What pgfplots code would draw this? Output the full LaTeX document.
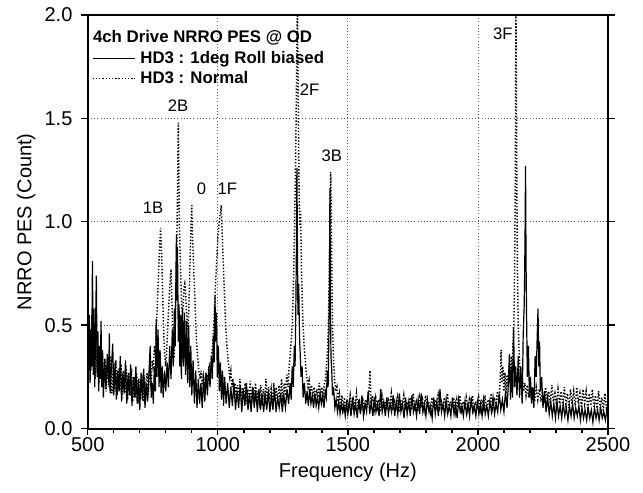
\documentclass[border=0pt]{standalone}
\usepackage{pgfplots}
\pgfplotsset{compat=1.18}
\usepackage{fontspec}
\setmainfont{Liberation Sans}
\pgfplotstableread{
x y
500 0.42
503 0.28
506 0.55
509 0.22
512 0.48
515 0.30
518 0.81
521 0.26
524 0.58
527 0.20
530 0.50
533 0.74
536 0.25
539 0.47
542 0.18
545 0.40
548 0.24
551 0.52
554 0.20
557 0.38
560 0.15
565 0.33
570 0.19
575 0.36
580 0.22
583 0.46
586 0.17
591 0.30
596 0.41
600 0.16
605 0.32
610 0.14
615 0.28
620 0.18
625 0.35
630 0.13
635 0.27
640 0.17
645 0.33
650 0.12
655 0.26
660 0.16
665 0.31
670 0.11
675 0.25
680 0.15
685 0.30
690 0.12
695 0.24
700 0.09
705 0.27
710 0.14
715 0.29
720 0.10
725 0.22
730 0.13
735 0.26
740 0.40
744 0.15
748 0.22
752 0.12
756 0.30
760 0.18
763 0.53
766 0.25
770 0.48
774 0.20
778 0.38
782 0.17
786 0.30
790 0.15
795 0.28
800 0.18
805 0.32
810 0.20
815 0.40
820 0.24
825 0.48
829 0.30
833 0.58
836 0.40
839 0.75
841 0.94
843 0.62
845 0.88
848 0.42
851 0.60
854 0.30
857 0.55
860 0.24
864 0.58
868 0.30
872 0.56
876 0.26
880 0.52
884 0.22
888 0.50
892 0.20
896 0.40
900 0.16
905 0.33
910 0.12
915 0.28
920 0.10
925 0.24
930 0.12
935 0.22
940 0.10
945 0.25
950 0.13
955 0.27
960 0.16
965 0.30
970 0.20
975 0.35
979 0.24
983 0.45
986 0.32
989 0.64
992 0.42
995 0.56
998 0.25
1002 0.40
1006 0.18
1010 0.32
1014 0.14
1018 0.28
1022 0.11
1026 0.25
1032 0.12
1038 0.22
1044 0.10
1050 0.20
1056 0.11
1062 0.22
1068 0.09
1074 0.18
1080 0.10
1086 0.21
1092 0.08
1098 0.19
1104 0.11
1110 0.22
1116 0.09
1122 0.17
1128 0.08
1134 0.20
1140 0.10
1146 0.18
1152 0.08
1158 0.19
1164 0.09
1170 0.17
1176 0.08
1182 0.16
1188 0.09
1194 0.18
1200 0.08
1206 0.16
1212 0.09
1218 0.19
1224 0.08
1230 0.15
1236 0.10
1242 0.17
1248 0.08
1254 0.16
1260 0.10
1266 0.19
1272 0.12
1278 0.22
1282 0.14
1286 0.30
1290 0.20
1294 0.40
1297 0.30
1300 0.60
1302 0.85
1304 1.26
1306 0.90
1308 0.55
1311 0.70
1314 0.45
1317 0.35
1320 0.25
1324 0.30
1328 0.15
1333 0.22
1338 0.12
1343 0.18
1348 0.11
1353 0.19
1358 0.12
1363 0.16
1368 0.10
1373 0.17
1378 0.11
1383 0.15
1388 0.10
1393 0.17
1398 0.12
1403 0.16
1408 0.10
1413 0.18
1417 0.15
1421 0.28
1424 0.20
1427 0.45
1429 0.70
1431 1.16
1433 0.60
1435 0.35
1438 0.28
1441 0.16
1445 0.20
1450 0.10
1455 0.14
1460 0.08
1465 0.13
1470 0.07
1475 0.12
1480 0.08
1485 0.11
1490 0.06
1495 0.12
1500 0.07
1506 0.13
1512 0.06
1518 0.15
1524 0.07
1530 0.12
1536 0.05
1542 0.14
1548 0.07
1554 0.16
1560 0.06
1566 0.12
1572 0.08
1578 0.18
1584 0.07
1590 0.13
1596 0.06
1602 0.15
1608 0.08
1614 0.12
1620 0.06
1626 0.19
1632 0.08
1638 0.13
1644 0.06
1650 0.15
1656 0.07
1662 0.12
1668 0.08
1674 0.16
1680 0.06
1686 0.13
1692 0.07
1698 0.17
1704 0.08
1710 0.12
1716 0.05
1722 0.15
1728 0.07
1734 0.13
1740 0.06
1746 0.16
1752 0.08
1758 0.12
1764 0.06
1770 0.14
1776 0.07
1782 0.17
1788 0.08
1794 0.12
1800 0.06
1806 0.14
1812 0.08
1818 0.11
1824 0.05
1830 0.15
1836 0.07
1842 0.13
1848 0.06
1854 0.19
1860 0.08
1866 0.12
1872 0.06
1878 0.14
1884 0.07
1890 0.11
1896 0.06
1902 0.15
1908 0.07
1914 0.12
1920 0.05
1926 0.14
1932 0.08
1938 0.11
1944 0.06
1950 0.13
1956 0.07
1962 0.12
1968 0.06
1974 0.15
1980 0.08
1986 0.11
1992 0.06
1998 0.13
2004 0.07
2010 0.12
2016 0.06
2022 0.14
2028 0.07
2034 0.11
2040 0.06
2046 0.13
2052 0.08
2058 0.15
2064 0.07
2070 0.12
2076 0.08
2082 0.17
2088 0.09
2094 0.14
2100 0.08
2106 0.18
2112 0.10
2117 0.22
2121 0.36
2125 0.14
2129 0.30
2133 0.15
2137 0.49
2141 0.20
2145 0.30
2150 0.16
2155 0.35
2160 0.15
2165 0.30
2170 0.12
2174 0.45
2178 0.60
2181 0.90
2183 1.27
2185 0.80
2187 0.55
2190 0.25
2194 0.40
2198 0.15
2202 0.25
2206 0.12
2210 0.20
2215 0.10
2220 0.35
2224 0.25
2228 0.45
2231 0.58
2234 0.30
2237 0.42
2240 0.18
2245 0.25
2250 0.10
2256 0.18
2262 0.08
2268 0.15
2274 0.07
2280 0.13
2286 0.06
2292 0.12
2298 0.05
2304 0.13
2310 0.06
2316 0.11
2322 0.05
2328 0.12
2334 0.06
2340 0.10
2346 0.04
2352 0.11
2358 0.06
2364 0.12
2370 0.05
2376 0.10
2382 0.06
2388 0.11
2394 0.04
2400 0.10
2406 0.05
2412 0.09
2418 0.04
2424 0.10
2430 0.05
2436 0.09
2442 0.03
2448 0.10
2454 0.05
2460 0.09
2466 0.04
2472 0.10
2478 0.05
2484 0.08
2490 0.04
2496 0.09
2500 0.05
}\rolltable
\pgfplotstableread{
x y
500 0.50
504 0.32
508 0.45
512 0.28
516 0.55
520 0.30
524 0.42
528 0.24
532 0.48
536 0.30
540 0.38
544 0.22
548 0.40
552 0.26
556 0.35
561 0.20
566 0.34
571 0.18
577 0.32
582 0.20
588 0.35
593 0.17
598 0.30
603 0.19
608 0.33
613 0.16
618 0.29
623 0.18
628 0.31
633 0.15
638 0.28
643 0.17
648 0.30
653 0.14
658 0.27
663 0.16
668 0.29
673 0.13
678 0.25
683 0.15
688 0.27
693 0.12
698 0.24
703 0.14
708 0.26
713 0.13
718 0.25
723 0.16
728 0.27
733 0.15
738 0.30
743 0.20
748 0.33
752 0.28
756 0.40
760 0.35
764 0.50
768 0.62
772 0.75
775 0.85
778 0.92
780 0.97
782 0.90
785 0.80
788 0.65
791 0.50
795 0.38
799 0.30
803 0.36
807 0.48
811 0.58
815 0.68
818 0.73
820 0.77
823 0.65
826 0.50
829 0.38
832 0.34
835 0.45
838 0.62
841 0.80
844 1.05
846 1.25
848 1.48
850 1.25
852 1.00
855 0.85
858 0.72
861 0.60
864 0.55
867 0.60
870 0.68
873 0.70
876 0.66
879 0.58
882 0.52
885 0.48
888 0.55
891 0.70
894 0.85
897 0.98
900 1.08
902 0.95
905 0.85
908 0.75
911 0.66
914 0.55
917 0.45
920 0.38
924 0.32
928 0.27
932 0.24
936 0.28
940 0.21
944 0.25
948 0.19
952 0.24
956 0.20
960 0.26
964 0.23
968 0.30
972 0.28
976 0.35
980 0.40
984 0.50
988 0.60
992 0.72
996 0.82
1000 0.92
1004 0.98
1008 1.03
1011 1.05
1013 1.08
1015 1.00
1018 0.90
1021 0.80
1024 0.70
1027 0.60
1030 0.50
1034 0.42
1038 0.35
1042 0.30
1046 0.25
1050 0.28
1054 0.20
1058 0.24
1062 0.17
1066 0.22
1070 0.15
1075 0.21
1080 0.14
1085 0.24
1090 0.13
1095 0.20
1100 0.14
1105 0.22
1110 0.12
1115 0.19
1120 0.13
1125 0.23
1130 0.12
1135 0.20
1140 0.14
1145 0.22
1150 0.12
1155 0.18
1160 0.13
1165 0.21
1170 0.11
1175 0.19
1180 0.13
1185 0.24
1190 0.12
1195 0.20
1200 0.14
1205 0.19
1210 0.11
1215 0.22
1220 0.13
1225 0.20
1230 0.12
1235 0.21
1240 0.14
1245 0.24
1250 0.13
1255 0.22
1260 0.16
1265 0.26
1270 0.20
1274 0.30
1278 0.35
1282 0.42
1286 0.50
1289 0.62
1292 0.78
1295 0.98
1298 1.20
1300 1.40
1302 1.62
1304 1.85
1306 2.05
1308 1.75
1310 1.45
1312 1.20
1314 1.05
1316 0.98
1318 1.05
1320 0.90
1322 0.75
1325 0.60
1328 0.50
1331 0.42
1335 0.35
1339 0.28
1343 0.24
1347 0.20
1351 0.23
1355 0.17
1360 0.21
1365 0.15
1370 0.20
1375 0.14
1380 0.19
1385 0.15
1390 0.22
1395 0.16
1400 0.20
1405 0.15
1410 0.22
1414 0.24
1418 0.30
1422 0.38
1425 0.50
1428 0.70
1430 0.90
1432 1.08
1434 1.24
1436 1.05
1438 0.80
1440 0.58
1443 0.40
1446 0.30
1450 0.22
1454 0.18
1458 0.20
1462 0.13
1467 0.17
1472 0.11
1477 0.16
1482 0.10
1487 0.15
1492 0.09
1497 0.14
1503 0.10
1509 0.16
1515 0.09
1521 0.14
1527 0.10
1533 0.17
1539 0.09
1545 0.13
1551 0.10
1557 0.15
1563 0.09
1569 0.14
1575 0.11
1581 0.18
1585 0.28
1589 0.12
1595 0.16
1601 0.09
1607 0.15
1613 0.10
1619 0.14
1625 0.08
1631 0.16
1637 0.10
1643 0.13
1649 0.09
1655 0.15
1661 0.10
1667 0.17
1673 0.09
1679 0.13
1685 0.10
1691 0.15
1697 0.08
1703 0.14
1709 0.10
1715 0.16
1721 0.09
1727 0.13
1733 0.10
1739 0.15
1745 0.09
1751 0.17
1757 0.10
1763 0.13
1769 0.08
1775 0.15
1781 0.10
1787 0.14
1793 0.09
1799 0.16
1805 0.10
1811 0.13
1817 0.08
1823 0.15
1829 0.10
1835 0.14
1841 0.09
1847 0.16
1853 0.10
1859 0.13
1865 0.09
1871 0.15
1877 0.10
1883 0.17
1889 0.09
1895 0.13
1901 0.10
1907 0.15
1913 0.08
1919 0.14
1925 0.10
1931 0.16
1937 0.09
1943 0.13
1949 0.10
1955 0.15
1961 0.09
1967 0.14
1973 0.10
1979 0.16
1985 0.09
1991 0.13
1997 0.10
2003 0.15
2009 0.09
2015 0.14
2021 0.10
2027 0.16
2033 0.09
2039 0.14
2045 0.11
2051 0.17
2057 0.10
2063 0.15
2069 0.11
2075 0.18
2081 0.12
2086 0.25
2089 0.38
2092 0.22
2096 0.30
2100 0.18
2104 0.27
2108 0.17
2112 0.26
2116 0.20
2120 0.30
2124 0.25
2128 0.35
2132 0.30
2135 0.42
2138 0.50
2140 0.65
2142 0.90
2144 1.30
2145 1.65
2146 2.05
2148 1.60
2150 1.10
2152 0.75
2155 0.50
2158 0.38
2162 0.28
2166 0.22
2170 0.25
2175 0.18
2180 0.22
2185 0.16
2190 0.21
2195 0.15
2200 0.20
2206 0.14
2212 0.19
2218 0.13
2224 0.20
2230 0.14
2236 0.19
2242 0.13
2248 0.18
2254 0.12
2260 0.20
2266 0.13
2272 0.18
2278 0.12
2284 0.21
2290 0.13
2296 0.17
2302 0.11
2308 0.19
2314 0.12
2320 0.18
2326 0.11
2332 0.20
2338 0.12
2344 0.17
2350 0.10
2356 0.19
2362 0.12
2368 0.18
2374 0.11
2380 0.20
2386 0.12
2392 0.17
2398 0.10
2404 0.19
2410 0.12
2416 0.18
2422 0.10
2428 0.17
2434 0.11
2440 0.19
2446 0.10
2452 0.16
2458 0.09
2464 0.18
2470 0.10
2476 0.15
2482 0.09
2488 0.17
2494 0.10
2500 0.14
}\normaltable
\begin{document}
\begin{tikzpicture}
\begin{axis}[
  scale only axis, width=390pt, height=310pt,
  xmin=500, xmax=2500, ymin=0, ymax=2,
  xtick={500,1000,1500,2000,2500}, minor x tick num=4,
  ytick={0,0.5,1.0,1.5,2.0},
  tick align=outside, xtick pos=bottom, ytick pos=both, yticklabel pos=left,
  major tick length=5pt, minor tick length=3.5pt,
  every tick/.style={black, line width=1pt},
  grid=major, major grid style={black!65, dotted, line width=0.6pt},
  axis line style={line width=1.5pt},
  /pgf/number format/assume math mode=true,
  yticklabel style={/pgf/number format/fixed, /pgf/number format/fixed zerofill, /pgf/number format/precision=1, xshift=-3pt},
  xticklabel style={/pgf/number format/1000 sep={}, yshift=2pt},
  ticklabel style={font=\fontsize{15}{18}\selectfont},
  label style={font=\fontsize{15}{18}\selectfont},
  xlabel={Frequency (Hz)}, ylabel={NRRO PES (Count)},
  xlabel style={yshift=-2pt},
]
\addplot[black, line width=0.9pt] table {\rolltable};
\addplot[black, line width=1.1pt, dash pattern=on 1pt off 1.4pt] table {\normaltable};
\begin{scope}[every node/.style={font=\bfseries\fontsize{12.6}{15}\selectfont, inner sep=0pt, anchor=base west}]
\node at (rel axis cs:0.0096,0.9323) {4ch Drive NRRO PES @ OD};
\node at (rel axis cs:0.1006,0.8839) {HD3 : 1deg Roll biased};
\node at (rel axis cs:0.1006,0.8355) {HD3 : Normal};
\end{scope}
\draw[black, line width=0.9pt] (rel axis cs:0.0096,0.8952) -- (rel axis cs:0.091,0.8952);
\draw[black, line width=1.1pt, dash pattern=on 1pt off 1.4pt] (rel axis cs:0.0096,0.8468) -- (rel axis cs:0.091,0.8468);
\begin{scope}[every node/.style={font=\fontsize{12.5}{15}\selectfont, inner sep=1pt}]
\node at (axis cs:751,1.07) {1B};
\node at (axis cs:847,1.56) {2B};
\node at (axis cs:937,1.16) {0};
\node at (axis cs:1037,1.16) {1F};
\node at (axis cs:1353,1.64) {2F};
\node at (axis cs:1438,1.32) {3B};
\node at (axis cs:2096,1.91) {3F};
\end{scope}
\end{axis}
\path ([xshift=-65.8pt,yshift=-48pt]current axis.south west) rectangle ([xshift=26.25pt,yshift=11.25pt]current axis.north east);
\end{tikzpicture}
\end{document}
